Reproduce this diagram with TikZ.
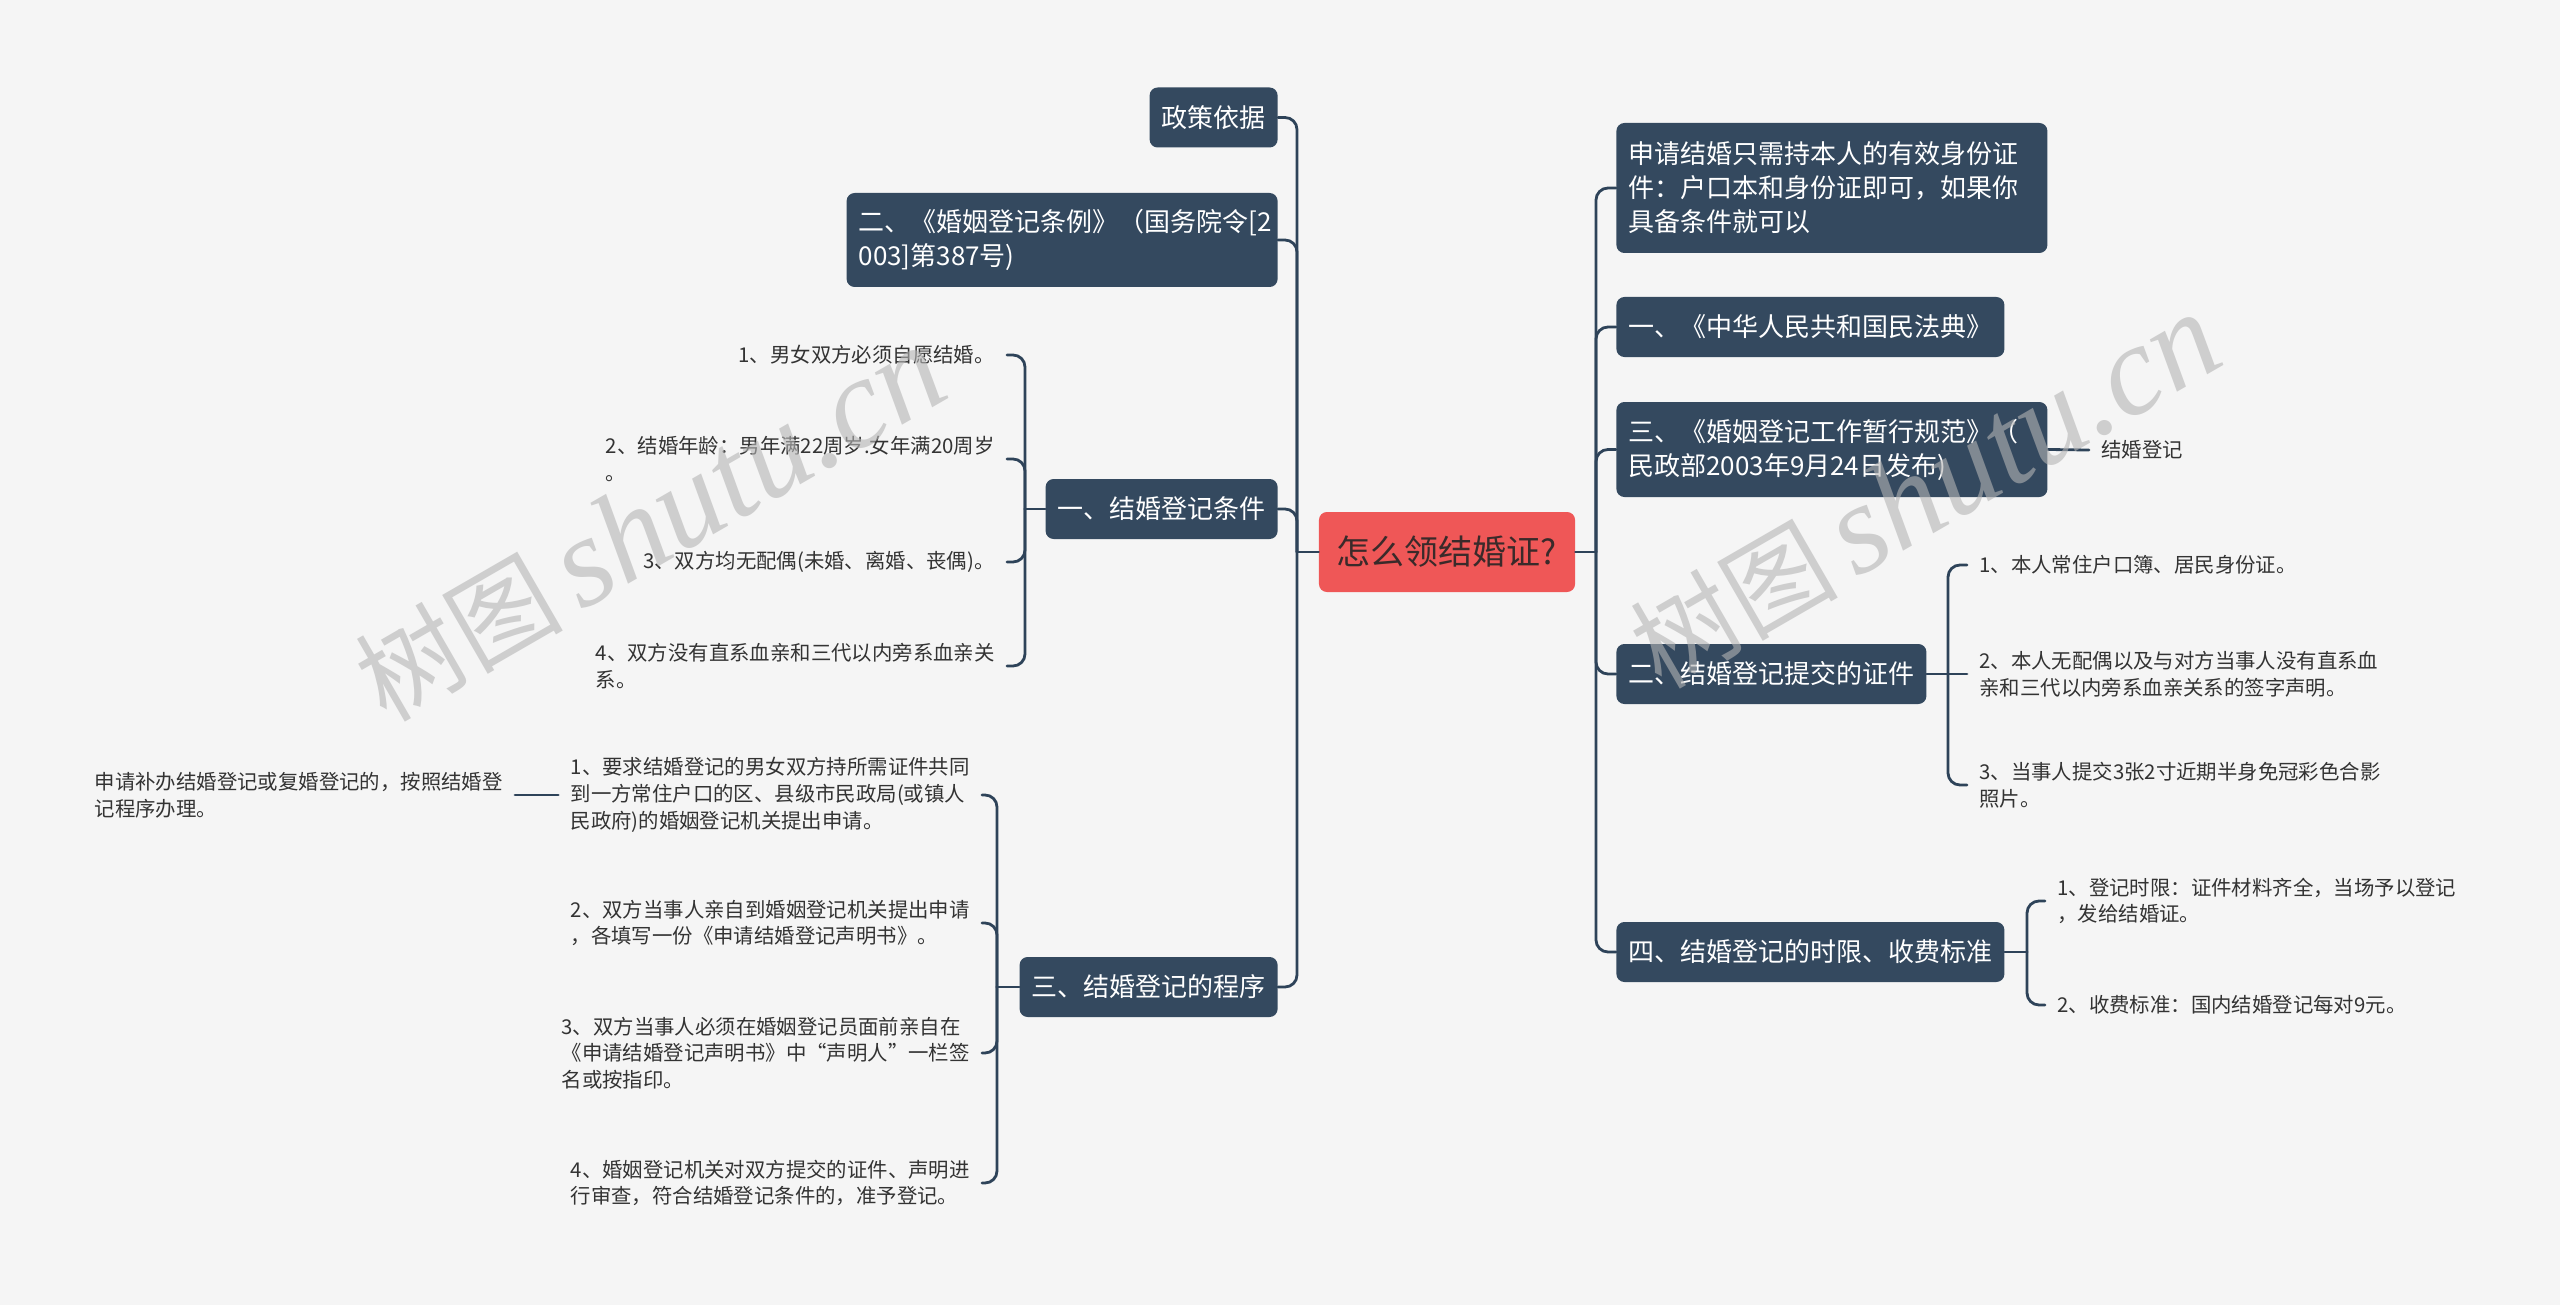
\documentclass[tikz,border=0pt]{standalone}
\usepackage{fontspec}
\setmainfont{Noto Sans CJK SC}
\newfontfamily\wmlatin{Liberation Serif}
\definecolor{bgc}{HTML}{F5F5F5}
\definecolor{boxc}{HTML}{34495F}
\definecolor{linec}{HTML}{2E4359}
\definecolor{rootc}{HTML}{EF5757}
\definecolor{roottext}{HTML}{3A2A2A}
\definecolor{leafc}{HTML}{333333}
\definecolor{wmc}{HTML}{B4B4B4}
\tikzset{
  box/.style={fill=boxc, text=white, rounded corners=4pt, inner xsep=6pt, inner ysep=0pt,
    minimum height=30pt, align=left, font=\fontsize{13pt}{17pt}\selectfont},
  widebox/.style={box, text width=203.5pt},
  rootbox/.style={fill=rootc, text=roottext, rounded corners=4pt, inner xsep=9pt, inner ysep=0pt,
    minimum height=40pt, font=\fontsize{17pt}{20pt}\selectfont},
  leaf/.style={text=leafc, inner xsep=6pt, inner ysep=2pt, align=left,
    font=\fontsize{10.2pt}{13.4pt}\selectfont},
  conn/.style={draw=linec, line width=1.4pt, line cap=round, line join=round},
  rc/.style={rounded corners=6pt},
  wm/.style={text=wmc, opacity=0.6, rotate=30, inner sep=0pt}
}
\begin{document}
\begin{tikzpicture}[x=0.5pt, y=-0.5pt]
\fill[bgc] (0,0) rectangle (2560,1305);
\useasboundingbox (0,0) rectangle (2560,1305);

% root
\node[rootbox] (R) at (1447,552) {怎么领结婚证?};

% left main branches
\node[box, anchor=east] (P1) at (1278,117.5) {政策依据};
\node[widebox, anchor=east, minimum height=47pt] (P2) at (1278,240) {二、《婚姻登记条例》（国务院令[2\\003]第387号)};
\node[box, anchor=east] (P3) at (1278,509) {一、结婚登记条件};
\node[box, anchor=east] (P4) at (1278,987) {三、结婚登记的程序};

% right main branches
\node[widebox, anchor=west, minimum height=65pt] (A) at (1616,188) {申请结婚只需持本人的有效身份证\\件：户口本和身份证即可，如果你\\具备条件就可以};
\node[box, anchor=west] (B) at (1616,327) {一、《中华人民共和国民法典》};
\node[widebox, anchor=west, minimum height=47.5pt] (C) at (1616,449.5) {三、《婚姻登记工作暂行规范》（\\民政部2003年9月24日发布)};
\node[box, anchor=west] (D) at (1616,674) {二、结婚登记提交的证件};
\node[box, anchor=west] (E) at (1616,952) {四、结婚登记的时限、收费标准};

% leaves of P3
\node[leaf, anchor=east] (L1) at (1007,355) {1、男女双方必须自愿结婚。};
\node[leaf, anchor=east] (L2) at (1007,459) {2、结婚年龄：男年满22周岁.女年满20周岁\\。};
\node[leaf, anchor=east] (L3) at (1007,562) {3、双方均无配偶(未婚、离婚、丧偶)。};
\node[leaf, anchor=east] (L4) at (1007,666) {4、双方没有直系血亲和三代以内旁系血亲关\\系。};

% leaves of P4
\node[leaf, anchor=east] (M1) at (982,795) {1、要求结婚登记的男女双方持所需证件共同\\到一方常住户口的区、县级市民政局(或镇人\\民政府)的婚姻登记机关提出申请。};
\node[leaf, anchor=east] (M2) at (982,923) {2、双方当事人亲自到婚姻登记机关提出申请\\，各填写一份《申请结婚登记声明书》。};
\node[leaf, anchor=east] (M3) at (982,1053) {3、双方当事人必须在婚姻登记员面前亲自在\\《申请结婚登记声明书》中“声明人”一栏签\\名或按指印。};
\node[leaf, anchor=east] (M4) at (982,1183) {4、婚姻登记机关对双方提交的证件、声明进\\行审查，符合结婚登记条件的，准予登记。};
\node[leaf, anchor=east] (K) at (515,795) {申请补办结婚登记或复婚登记的，按照结婚登\\记程序办理。};

% leaves of C, D, E
\node[leaf, anchor=west] (W) at (2089,450) {结婚登记};
\node[leaf, anchor=west] (N1) at (1967,565) {1、本人常住户口簿、居民身份证。};
\node[leaf, anchor=west] (N2) at (1967,674) {2、本人无配偶以及与对方当事人没有直系血\\亲和三代以内旁系血亲关系的签字声明。};
\node[leaf, anchor=west] (N3) at (1967,785) {3、当事人提交3张2寸近期半身免冠彩色合影\\照片。};
\node[leaf, anchor=west] (Q1) at (2045,901) {1、登记时限：证件材料齐全，当场予以登记\\，发给结婚证。};
\node[leaf, anchor=west] (Q2) at (2045,1005) {2、收费标准：国内结婚登记每对9元。};

% junction coordinates
\coordinate (LT) at (1297,552);
\coordinate (RT) at (1596,552);
\coordinate (b3) at (1025,509);
\coordinate (b4) at (997,987);
\coordinate (bD) at (1948,674);
\coordinate (bE) at (2027,952);

% connectors
\draw[conn] (R.west) -- (LT);
\foreach \n in {P1,P2,P3,P4} \draw[conn,rc] (LT) |- (\n.east);
\draw[conn] (R.east) -- (RT);
\foreach \n in {A,B,C,D,E} \draw[conn,rc] (RT) |- (\n.west);

\draw[conn] (P3.west) -- (b3);
\foreach \n in {L1,L2,L3,L4} \draw[conn,rc] (b3) |- (\n.east);

\draw[conn] (P4.west) -- (b4);
\foreach \n in {M1,M2,M3,M4} \draw[conn,rc] (b4) |- (\n.east);
\draw[conn] (M1.west) -- (K.east);

\draw[conn] (C.east) -- (W.west);

\draw[conn] (D.east) -- (bD);
\draw[conn] (bD) -- (N2.west);
\foreach \n in {N1,N3} \draw[conn,rc] (bD) |- (\n.west);

\draw[conn] (E.east) -- (bE);
\foreach \n in {Q1,Q2} \draw[conn,rc] (bE) |- (\n.west);

% watermarks
\node[wm] (wm1) at (650,525) {\fontsize{52pt}{52pt}\selectfont 树图\,{\wmlatin\itshape\fontsize{64pt}{64pt}\selectfont shutu.cn}};
\node[wm] (wm2) at (1925,492) {\fontsize{52pt}{52pt}\selectfont 树图\,{\wmlatin\itshape\fontsize{64pt}{64pt}\selectfont shutu.cn}};
\end{tikzpicture}
\end{document}
